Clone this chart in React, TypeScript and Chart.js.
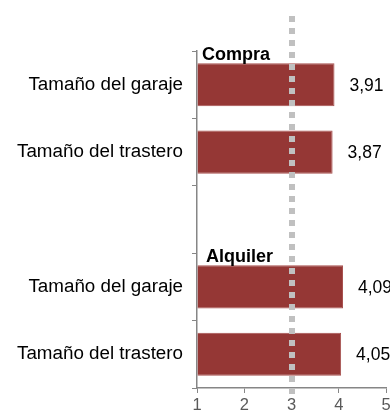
import React, { useEffect, useRef } from "react";
import { Chart, registerables } from "chart.js";

Chart.register(...registerables);

// Row labels (the empty row separates the two groups)
const categories = [
  "Tamaño del garaje",
  "Tamaño del trastero",
  "",
  "Tamaño del garaje",
  "Tamaño del trastero",
];
const ratings: (number | null)[] = [3.91, 3.87, null, 4.09, 4.05];
const valueLabels = ["3,91", "3,87", "", "4,09", "4,05"];
const groupTitles = ["Compra", "", "", "Alquiler", ""];
const xTicks = [1, 2, 3, 4, 5];
const referenceValue = 3;

const FONT = "'Liberation Sans', Arial, sans-serif";

const overlayPlugin = {
  id: "overlay",
  afterDatasetsDraw(chart: any) {
    const { ctx, scales } = chart;
    const meta = chart.getDatasetMeta(0);
    ctx.save();

    // group titles above the first bar of each group
    ctx.font = `bold 18px ${FONT}`;
    ctx.fillStyle = "#000000";
    ctx.textAlign = "left";
    ctx.textBaseline = "alphabetic";
    groupTitles.forEach((t, i) => {
      if (!t) return;
      const yc = scales.y.getPixelForValue(i);
      const el = meta.data[i];
      const top = yc - el.height / 2;
      ctx.fillText(t, chart.chartArea.left + (i === 0 ? 5 : 9), top - 3);
    });

    // value labels to the right of each bar
    ctx.font = `17.5px ${FONT}`;
    ctx.textBaseline = "middle";
    ratings.forEach((v, i) => {
      if (v == null) return;
      const x = scales.x.getPixelForValue(v);
      const y = scales.y.getPixelForValue(i);
      ctx.fillText(valueLabels[i], x + 15, y + 1);
    });

    // dotted reference line at the scale midpoint
    const rx = Math.round(scales.x.getPixelForValue(referenceValue));
    ctx.strokeStyle = "#c0c0c0";
    ctx.lineWidth = 6;
    ctx.setLineDash([6, 6]);
    ctx.beginPath();
    ctx.moveTo(rx, 16);
    ctx.lineTo(rx, 394);
    ctx.stroke();
    ctx.restore();
  },
};

export default function App() {
  const ref = useRef<HTMLCanvasElement>(null);

  useEffect(() => {
    if (!ref.current) return;
    const chart = new Chart(ref.current, {
      type: "bar",
      data: {
        labels: categories,
        datasets: [
          {
            data: ratings,
            base: 1,
            backgroundColor: "#953735",
            borderColor: "#a8514f",
            borderWidth: 1,
            categoryPercentage: 1,
            barPercentage: 0.64,
          },
        ],
      },
      options: {
        indexAxis: "y",
        animation: false,
        responsive: true,
        maintainAspectRatio: false,
        layout: { padding: { top: 51, right: 4, left: 0, bottom: 0 } },
        plugins: {
          legend: { display: false },
          tooltip: { enabled: false },
        },
        scales: {
          x: {
            type: "linear",
            min: 1,
            max: 5,
            afterFit: (s: any) => {
              s.height = 31;
              s.paddingLeft = 0;
              s.paddingRight = 0;
            },
            afterBuildTicks: (s: any) => {
              s.ticks = xTicks.map((v) => ({ value: v }));
            },
            grid: {
              drawOnChartArea: false,
              drawTicks: true,
              tickLength: 5,
              color: "#868686",
            },
            border: { color: "#868686", width: 1.5 },
            ticks: {
              color: "#595959",
              font: { family: FONT, size: 16.5 },
              padding: 3,
              maxRotation: 0,
            },
          },
          y: {
            afterFit: (s: any) => {
              s.width = 197;
              s.paddingTop = 0;
              s.paddingBottom = 0;
            },
            grid: {
              offset: true,
              drawOnChartArea: false,
              drawTicks: true,
              tickLength: 5,
              color: "#868686",
            },
            border: { color: "#868686", width: 1.5 },
            ticks: {
              color: "#000000",
              font: { family: FONT, size: 18.8 },
              padding: 9,
              autoSkip: false,
            },
          },
        },
      },
      plugins: [overlayPlugin],
    });
    return () => chart.destroy();
  }, []);

  return (
    <div style={{ position: "absolute", left: 0, top: 0, width: 390, height: 419 }}>
      <canvas ref={ref} />
    </div>
  );
}
